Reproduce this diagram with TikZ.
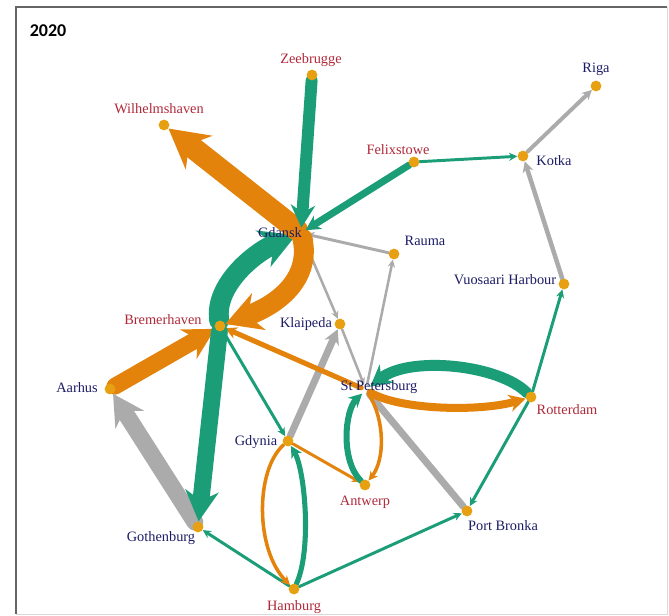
\documentclass[tikz,border=0pt]{standalone}
\usepackage{fontspec}
\setmainfont{Liberation Serif}
\newfontfamily\yearfont{Carlito}
\usepackage{tikz}
\usetikzlibrary{arrows.meta,backgrounds}

\definecolor{flowgreen}{HTML}{1B9E77}
\definecolor{floworange}{HTML}{E3830B}
\definecolor{flowgray}{HTML}{ABABAB}
\definecolor{portdot}{HTML}{E6A012}
\definecolor{portred}{HTML}{B02838}
\definecolor{portnavy}{HTML}{1C1C66}

\tikzset{
  port/.style={circle, fill=portdot, inner sep=0pt, minimum size=0.27cm},
  hub/.style={circle, inner sep=0pt, minimum size=0.25cm},
  redlab/.style={text=portred, inner sep=0pt, font=\fontsize{10.2}{12}\selectfont},
  navylab/.style={text=portnavy, inner sep=0pt, font=\fontsize{10.2}{12}\selectfont},
  flow/.style={line cap=round, -{Stealth[length=2.5pt 1.6, width=2pt 1.8]}},
  greenflow/.style={flow, flowgreen, line width=#1},
  orangeflow/.style={flow, floworange, line width=#1},
  grayflow/.style={flow, flowgray, line width=#1}
}

\begin{document}
\begin{tikzpicture}[x=0.025cm, y=-0.025cm]
  \useasboundingbox (0,0) rectangle (669,616);
  \draw[black!60, line width=1pt] (16,614) -- (16,7) -- (667,7);
  \draw[black!15] (667,7) -- (667,614) -- (16,614);
  \node[font=\yearfont\bfseries\fontsize{12.8}{14}\selectfont] (year) at (48,31) {2020};

  % ports
  \node[port] (zee) at (312,75) {};
  \node[port] (wil) at (164,125) {};
  \node[port] (rig) at (596,86) {};
  \node[port] (fel) at (414,162) {};
  \node[port] (kot) at (523,156) {};
  \node[hub]  (gda) at (301,233) {};
  \node[port] (rau) at (394,254) {};
  \node[port] (vuo) at (564,284) {};
  \node[port] (brm) at (220,326) {};
  \node[port] (kla) at (340,324) {};
  \node[port] (aar) at (110,389) {};
  \node[hub]  (stp) at (366,390) {};
  \node[port] (rot) at (531,397) {};
  \node[port] (gdy) at (288,441) {};
  \node[port] (ant) at (365,485) {};
  \node[port] (pbr) at (467,511) {};
  \node[port] (got) at (198,527) {};
  \node[port] (ham) at (294,589) {};

  % names
  \node[redlab]  (zee-lab) at (311,60) {Zeebrugge};
  \node[redlab]  (wil-lab) at (159,109) {Wilhelmshaven};
  \node[navylab] (rig-lab) at (596,69) {Riga};
  \node[redlab]  (fel-lab) at (398,150) {Felixstowe};
  \node[navylab] (kot-lab) at (554,161) {Kotka};
  \node[navylab] (gda-lab) at (280,233) {Gdansk};
  \node[navylab] (rau-lab) at (425,241) {Rauma};
  \node[navylab] (vuo-lab) at (505,280) {Vuosaari Harbour};
  \node[redlab]  (brm-lab) at (163,320) {Bremerhaven};
  \node[navylab] (kla-lab) at (306,324) {Klaipeda};
  \node[navylab] (aar-lab) at (77,388) {Aarhus};
  \node[navylab] (stp-lab) at (379,387) {St Petersburg};
  \node[redlab]  (rot-lab) at (567,410) {Rotterdam};
  \node[navylab] (gdy-lab) at (256,442) {Gdynia};
  \node[redlab]  (ant-lab) at (365,502) {Antwerp};
  \node[navylab] (pbr-lab) at (503,526) {Port Bronka};
  \node[navylab] (got-lab) at (161,538) {Gothenburg};
  \node[redlab]  (ham-lab) at (294,607) {Hamburg};

  \begin{scope}[on background layer]
    % thin flows
    \draw[grayflow=2.1pt] (rau) -- (gda);
    \draw[grayflow=1.8pt] (gda) -- (kla);
    \draw[grayflow=1.8pt] (kla) -- (stp);
    \draw[grayflow=1.8pt] (stp) -- (rau);
    \draw[grayflow=2.8pt] (kot) -- (rig);
    \draw[grayflow=3.2pt] (vuo) -- (kot);
    \draw[flowgray, line width=5pt, line cap=round] (stp) -- (pbr);
    \draw[greenflow=2.1pt] (fel) -- (kot);
    \draw[greenflow=2.1pt] (rot) -- (vuo);
    \draw[greenflow=2.1pt] (rot) -- (pbr);
    \draw[greenflow=2.1pt] (ham) -- (pbr);
    \draw[greenflow=2.1pt] (ham) -- (got);
    \draw[greenflow=2.1pt] (brm) -- (gdy);
    \draw[orangeflow=2.1pt] (gdy) -- (ant);
    \draw[orangeflow=2.5pt] (gdy) .. controls (255,470) and (255,550) .. (ham);
    \draw[orangeflow=2.5pt] (stp) .. controls (385,420) and (385,460) .. (ant);
    \draw[greenflow=3.6pt] (ham) .. controls (312,550) and (305,470) .. (gdy);
    \draw[greenflow=4.3pt] (ant) .. controls (340,460) and (345,410) .. (stp);
    % medium flows
    \draw[grayflow=5pt] (gdy) -- (kla);
    \draw[orangeflow=3.6pt] (stp) -- (brm);
    \draw[orangeflow=5.7pt] (stp) .. controls (400,410) and (480,412) .. (rot);
    \draw[greenflow=7.8pt] (rot) .. controls (500,365) and (410,355) .. (stp);
    % heavy flows
    \draw[orangeflow=12pt] (aar) -- (brm);
    \draw[grayflow=12pt] (got) -- (aar);
    \draw[greenflow=12pt] (brm) -- (got);
    \draw[greenflow=14.2pt] (brm) .. controls (214,285) and (255,252) .. (gda);
    \draw[orangeflow=14.2pt] (gda) .. controls (310,270) and (290,300) .. (brm);
    \draw[orangeflow=15.6pt] (gda) -- (wil);
    \draw[greenflow=8.5pt] (zee) -- (gda);
    \draw[greenflow=5pt] (fel) -- (gda);
  \end{scope}
\end{tikzpicture}
\end{document}
